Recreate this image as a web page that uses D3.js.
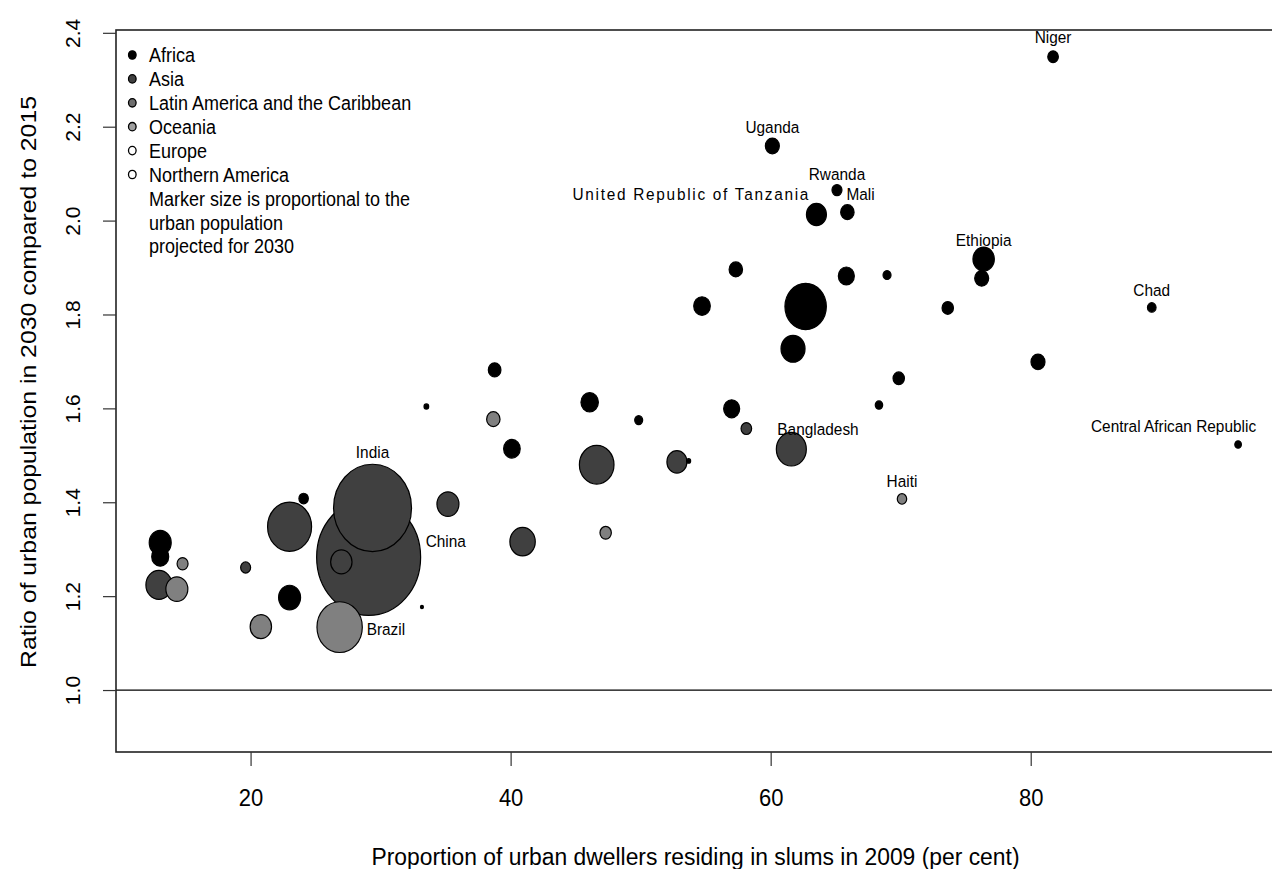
<!DOCTYPE html>
<html><head><meta charset="utf-8">
<script src="https://cdn.jsdelivr.net/npm/d3@7"></script>
<style>
html,body{margin:0;padding:0;background:#fff;}
svg{display:block;font-family:"Liberation Sans", Arial, sans-serif;}
</style>
</head><body>
<svg id="chart" width="1272" height="869"></svg>
<script>
// ---------------- DATA ----------------
const regions = ["Africa","Asia","Latin America and the Caribbean","Oceania","Europe","Northern America"];
const legendNote = ["Marker size is proportional to the","urban population","projected for 2030"];

// one entry per country (order = original listing)
const countryNames = ["","","","","","","","","","","India","China","","Brazil","","","","","","",
  "","","","","","","","","","","","Uganda","Bangladesh","","","United Republic of Tanzania","Rwanda","Mali","","",
  "","","Haiti","","","Ethiopia","","Niger","Chad","Central African Republic"];
// Proportion of urban dwellers residing in slums in 2009 (per cent)
const slumShare = [13.05,13.05,12.95,14.33,14.77,19.62,23.0,23.0,20.79,24.08,29.38,29.08,26.98,26.85,33.18,33.52,35.18,38.67,38.77,40.1,
  40.92,46.08,46.62,47.31,49.85,52.79,53.69,54.72,57.0,57.32,58.13,60.13,61.59,61.72,62.69,63.52,65.1,65.9,65.82,68.33,
  68.95,69.85,70.1,73.62,76.23,76.38,80.56,81.72,89.31,95.95];
// Ratio of urban population in 2030 compared to 2015
const growthRatio = [1.314,1.284,1.224,1.215,1.269,1.261,1.348,1.197,1.135,1.408,1.388,1.283,1.273,1.134,1.177,1.604,1.396,1.577,1.682,1.514,
  1.316,1.613,1.480,1.335,1.575,1.486,1.488,1.818,1.599,1.896,1.557,2.159,1.513,1.727,1.817,2.013,2.065,2.018,1.882,1.607,
  1.884,1.664,1.407,1.814,1.877,1.918,1.699,2.349,1.815,1.523];
// Urban population projected for 2030 (millions)
const urbanPop2030 = [44.7,26.7,62.5,44.7,11.2,9.2,179,44.7,42.3,8.2,562,1000,42.3,190,0.8,2.0,44.7,16.6,14.7,25.5,
  59.6,28,110.7,12,5.9,37,1.5,25.5,23.7,16.6,10.4,18.1,83.2,53.3,158.5,37,9.2,16.6,23.7,5.1,
  5.9,12,8.2,12,18.1,42.3,18.1,10.4,6.8,4.0];
// region index into `regions`
const regionIdx = [0,0,1,2,2,1,1,0,2,0,1,1,4,2,0,0,1,2,0,0,
  1,0,1,2,0,1,0,0,0,0,1,0,1,0,0,0,0,0,0,0,
  0,0,2,0,0,0,0,0,0,0];

const xTicks = [20,40,60,80];
const yTicks = [1.0,1.2,1.4,1.6,1.8,2.0,2.2,2.4];
const xTitle = "Proportion of urban dwellers residing in slums in 2009 (per cent)";
const yTitle = "Ratio of urban population in 2030 compared to 2015";

// ---------------- STYLE ----------------
const regionFill = ["#000000","#404040","#808080","#a8a8a8","none","#ffffff"];
const legendFill = ["#000000","#404040","#6e6e6e","#a0a0a0","#ffffff","#ffffff"];
// label placement (pixel offsets from marker centre)
const labelStyle = {
  "India":{dx:0,dy:-56,a:"middle"},
  "China":{dx:57,dy:-16,a:"start"},
  "Brazil":{dx:27,dy:2,a:"start"},
  "Uganda":{dx:0,dy:-19,a:"middle"},
  "Rwanda":{dx:0,dy:-16,a:"middle"},
  "United Republic of Tanzania":{dx:-8,dy:-21,a:"end",len:236},
  "Mali":{dx:-1,dy:-18,a:"start"},
  "Ethiopia":{dx:0,dy:-19,a:"middle"},
  "Niger":{dx:0,dy:-20,a:"middle"},
  "Chad":{dx:0,dy:-18,a:"middle"},
  "Central African Republic":{dx:18,dy:-19,a:"end"},
  "Haiti":{dx:0,dy:-18,a:"middle"},
  "Bangladesh":{dx:-14,dy:-20,a:"start"}
};
const aspect = 1.12;   // vertical stretch of markers
const textStretch = 1.12; // vertical stretch of horizontal text

const plot = {left:116, top:30, bottom:752, right:1281};

const svg = d3.select("#chart");
const x = d3.scaleLinear().domain([9.65, 99.25]).range([plot.left, plot.right]);
const y = d3.scaleLinear().domain([0.868, 2.406]).range([plot.bottom, plot.top]);
const r = d3.scaleSqrt().domain([0, 1000]).range([0, 52]);

const pts = slumShare.map((v,i)=>({name:countryNames[i], sx:v, gy:growthRatio[i], pop:urbanPop2030[i], reg:regionIdx[i]}));

// reference line at 1
svg.append("line").attr("x1",plot.left).attr("x2",plot.right)
  .attr("y1",y(1)).attr("y2",y(1)).attr("stroke","#000").attr("stroke-width",1.3);

// markers, largest first
const sorted = pts.slice().sort((a,b)=>b.pop-a.pop);
svg.append("g").selectAll("ellipse").data(sorted).join("ellipse")
  .attr("cx",d=>x(d.sx)).attr("cy",d=>y(d.gy))
  .attr("rx",d=>r(d.pop)).attr("ry",d=>r(d.pop)*aspect)
  .attr("fill",d=>regionFill[d.reg])
  .attr("stroke","#000").attr("stroke-width",1.2);

// helper: horizontal text with vertical stretch, centred at (px,py)
function stretchedText(g, px, py, str, anchor){
  return g.append("text")
    .attr("transform",`translate(${px},${py}) scale(1,${textStretch})`)
    .attr("dy","0.36em").attr("text-anchor",anchor||"start").text(str);
}

// country labels
const lab = svg.append("g").attr("font-size",15.4).attr("fill","#000");
pts.filter(d=>d.name).forEach(d=>{
  const s = labelStyle[d.name];
  const t = stretchedText(lab, x(d.sx)+s.dx, y(d.gy)+s.dy, d.name, s.a);
  if (s.len) t.attr("textLength", s.len).attr("lengthAdjust","spacing");
});

// frame
svg.append("rect").attr("x",plot.left).attr("y",plot.top)
  .attr("width",plot.right-plot.left).attr("height",plot.bottom-plot.top)
  .attr("fill","none").attr("stroke","#222").attr("stroke-width",1.6);

// x axis
const xAxis = d3.axisBottom(x).tickValues(xTicks).tickSize(14).tickPadding(0).tickFormat(d3.format("d"));
const gx = svg.append("g").attr("transform",`translate(0,${plot.bottom})`).call(xAxis);
gx.select(".domain").remove();
gx.selectAll(".tick line").attr("stroke","#333").attr("stroke-width",1.2);
gx.selectAll(".tick text").attr("font-size",22).attr("font-family","Liberation Sans, Arial, sans-serif")
  .attr("fill","#000").attr("y",null)
  .attr("transform",`translate(0,45) scale(1,1.1)`).attr("dy","0.36em");

// y axis
const yAxis = d3.axisLeft(y).tickValues(yTicks).tickSize(13).tickFormat(d3.format(".1f"));
const gy = svg.append("g").attr("transform",`translate(${plot.left},0)`).call(yAxis);
gy.select(".domain").remove();
gy.selectAll(".tick line").attr("stroke","#333").attr("stroke-width",1.2);
gy.selectAll(".tick text").attr("font-size",21).attr("font-family","Liberation Sans, Arial, sans-serif")
  .attr("fill","#000").attr("x",null)
  .attr("text-anchor","middle")
  .attr("transform",`translate(${72-plot.left},0) rotate(-90)`)
  .attr("dy","0.36em");

// axis titles
svg.append("text").attr("transform",`translate(${(plot.left+plot.right)/2 - 3},856) scale(1,1.05)`).attr("dy","0.36em")
  .attr("text-anchor","middle").attr("font-size",23).attr("fill","#000")
  .attr("textLength",648).attr("lengthAdjust","spacingAndGlyphs").text(xTitle);
svg.append("text").attr("transform",`translate(28,382) rotate(-90)`).attr("dy","0.36em")
  .attr("text-anchor","middle").attr("font-size",22.5).attr("fill","#000")
  .attr("textLength",572).attr("lengthAdjust","spacingAndGlyphs").text(yTitle);

// legend
const lg = svg.append("g").attr("font-size",18).attr("fill","#000");
const rowY = i => 55 + i*23.9;
regions.forEach((name,i)=>{
  lg.append("ellipse").attr("cx",132.3).attr("cy",rowY(i)).attr("rx",3.8).attr("ry",4.2)
    .attr("fill",legendFill[i]).attr("stroke","#000").attr("stroke-width",1.3);
  stretchedText(lg, 149, rowY(i), name);
});
legendNote.forEach((line,j)=>{
  stretchedText(lg, 149, rowY(regions.length+j), line);
});
</script>
</body></html>
